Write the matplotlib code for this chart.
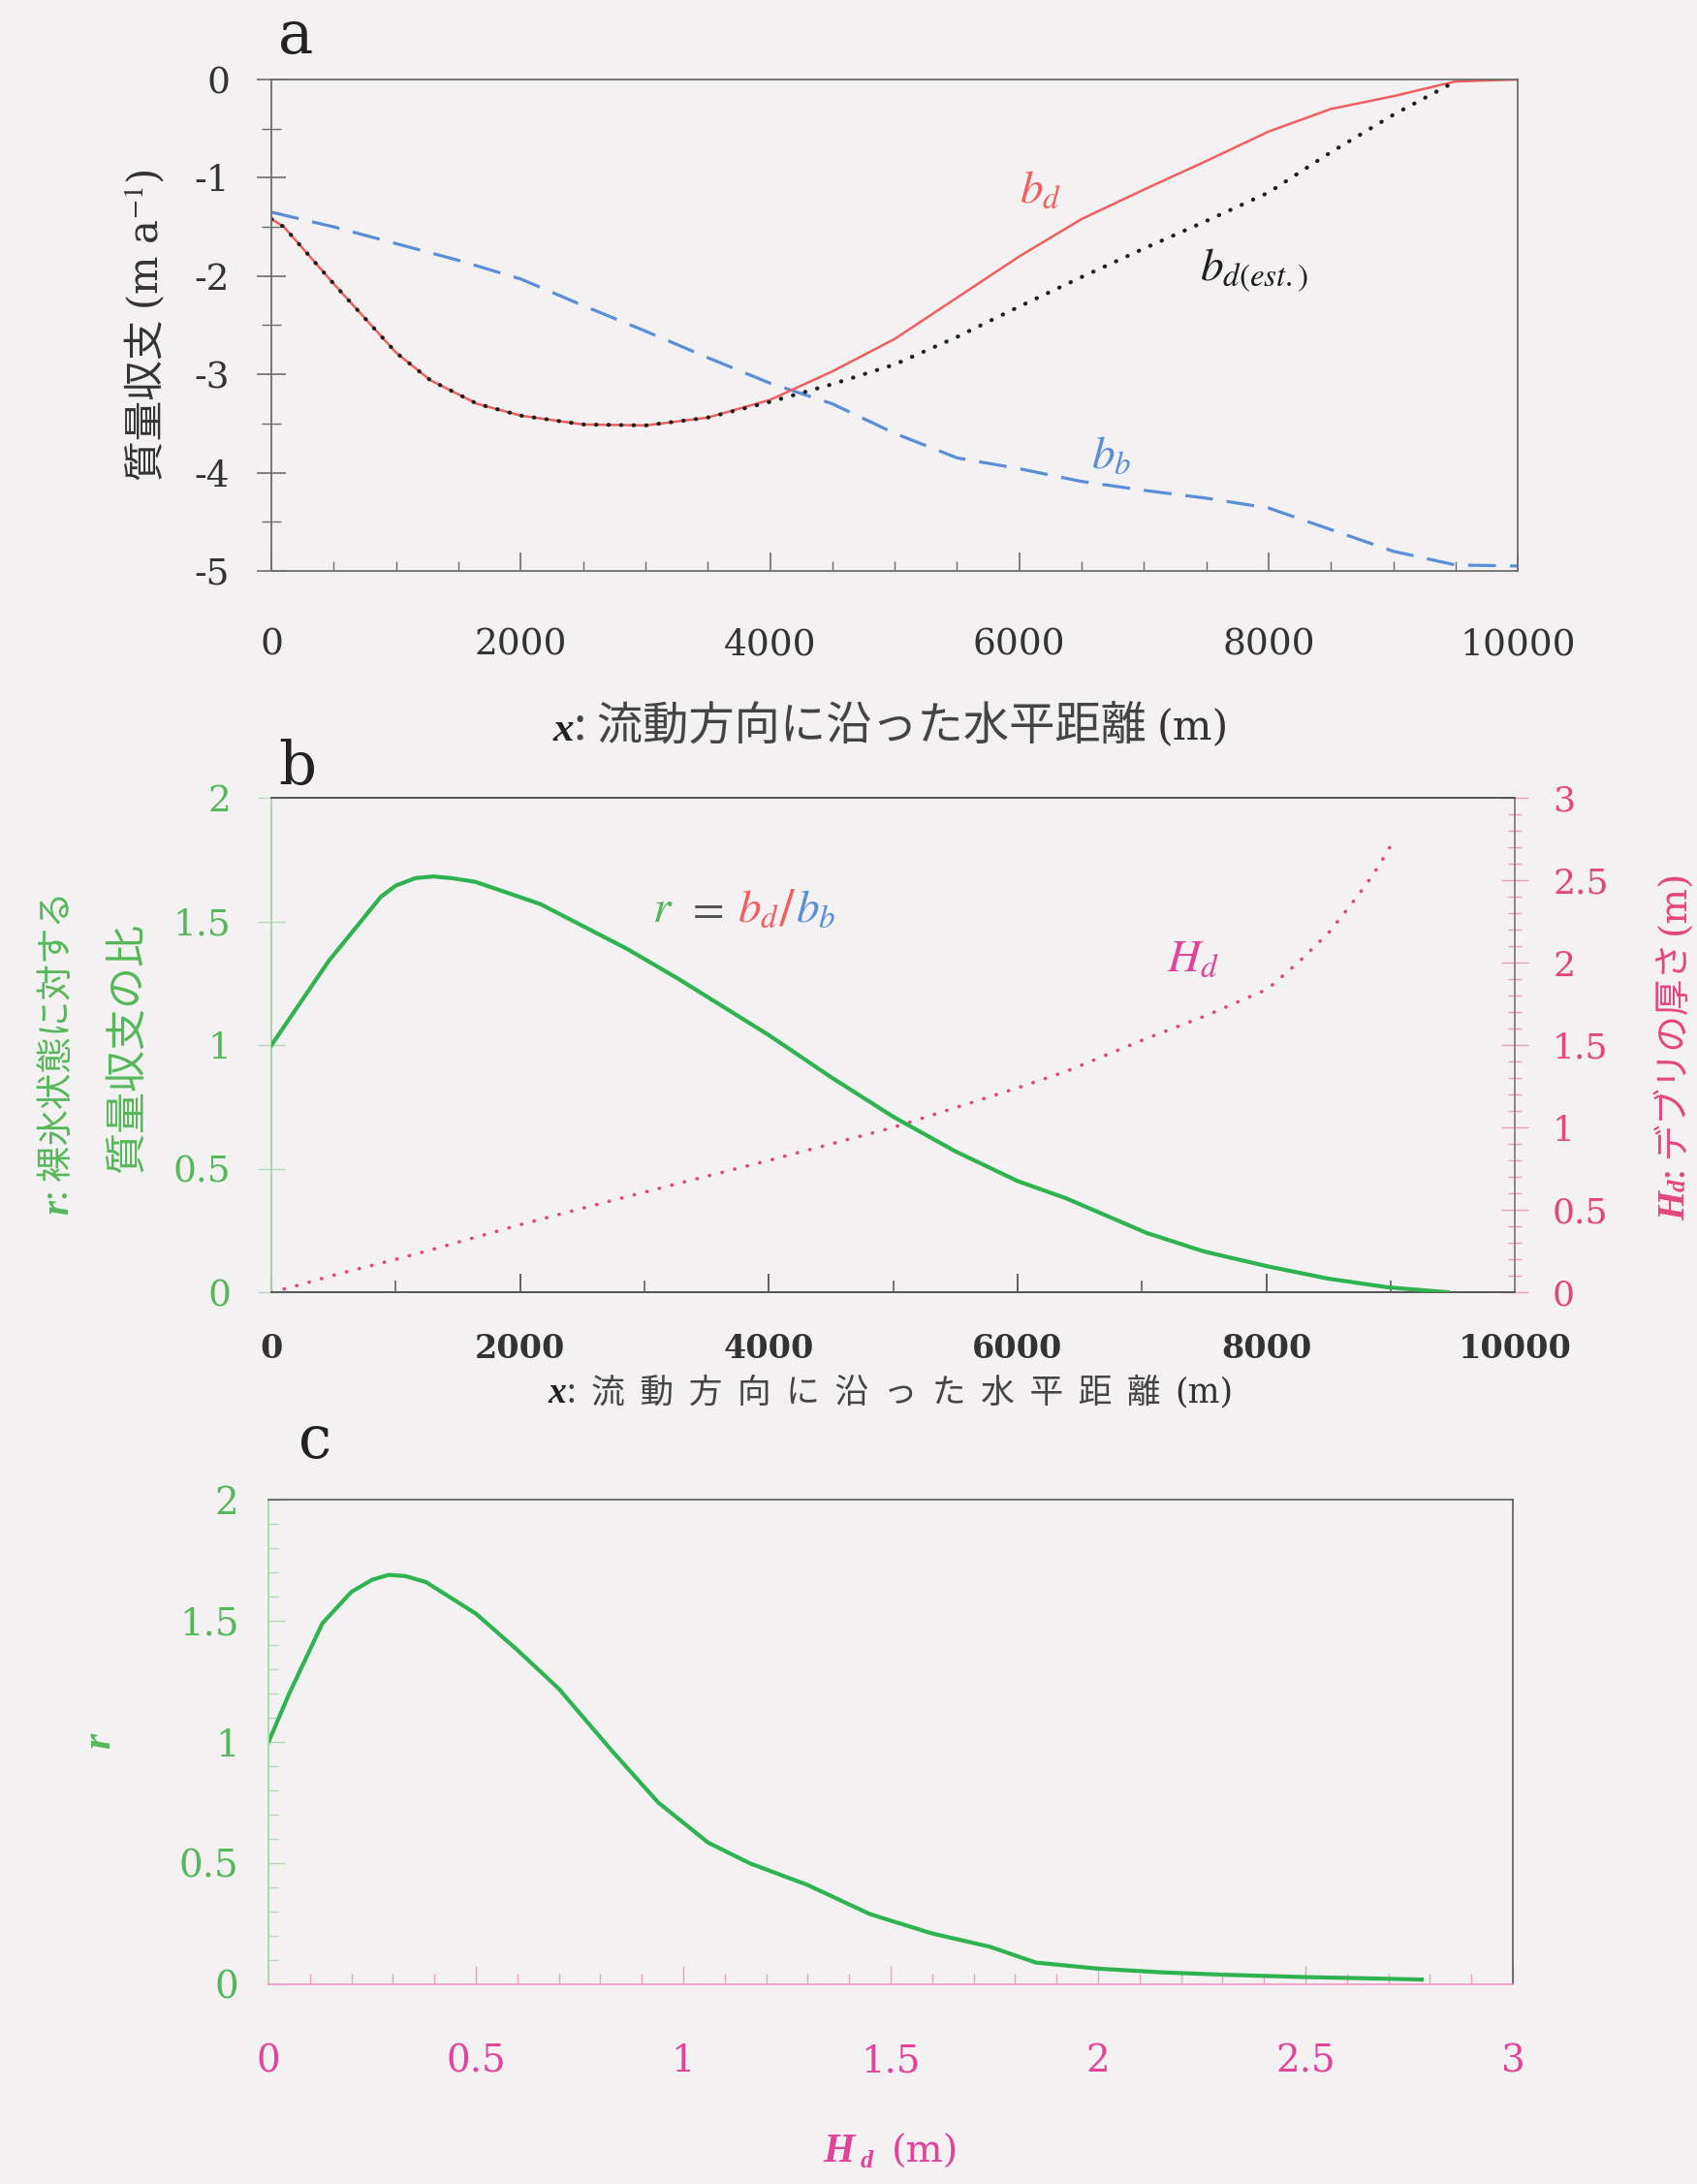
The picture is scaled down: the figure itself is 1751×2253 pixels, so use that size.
import matplotlib
matplotlib.use('Agg')
import matplotlib.pyplot as plt
from matplotlib.ticker import MultipleLocator, FormatStrFormatter

plt.rcParams['mathtext.fontset'] = 'stix'
plt.rcParams['font.family'] = ['DejaVu Serif']
plt.rcParams['axes.unicode_minus'] = False

# ---------------- data ----------------
# panel a : mass balance along flow
x_bd = [0, 100, 500, 1000, 1275, 1650, 2000, 2500, 3000, 3500, 4000, 4500, 5000,
        5500, 6000, 6500, 7000, 7500, 8000, 8500, 9000, 9500, 10000]
bd = [-1.42, -1.5, -2.08, -2.78, -3.06, -3.30, -3.42, -3.51, -3.52, -3.44, -3.26,
      -2.97, -2.64, -2.22, -1.80, -1.42, -1.12, -0.83, -0.53, -0.30, -0.17, -0.02, 0.0]

x_est = [0, 100, 500, 1000, 1275, 1650, 2000, 2500, 3000, 3500, 4000, 4500, 5000,
         5500, 6000, 6500, 7000, 7500, 8000, 8500, 9000, 9500]
bd_est = [-1.42, -1.5, -2.08, -2.78, -3.06, -3.30, -3.42, -3.51, -3.52, -3.44, -3.28,
          -3.10, -2.90, -2.62, -2.31, -2.01, -1.72, -1.44, -1.15, -0.74, -0.36, -0.02]

x_bb = [0, 500, 1000, 1500, 2000, 2500, 3000, 3500, 4000, 4500, 5000, 5500, 6000,
        6500, 7000, 7500, 8000, 8500, 9000, 9500, 10000]
bb = [-1.35, -1.5, -1.67, -1.84, -2.03, -2.30, -2.56, -2.83, -3.09, -3.30, -3.60,
      -3.85, -3.96, -4.09, -4.18, -4.26, -4.36, -4.58, -4.80, -4.94, -4.95]

# panel b : ratio r and debris thickness Hd along flow
x_r = [0, 460, 880, 1000, 1155, 1300, 1450, 1640, 2163, 2856, 3265, 4000, 4500, 5000,
       5500, 6000, 6391, 7038, 7500, 8010, 8500, 8979, 9460]
r_x = [1.0, 1.34, 1.60, 1.645, 1.675, 1.682, 1.675, 1.66, 1.57, 1.39, 1.27, 1.04,
       0.87, 0.71, 0.57, 0.45, 0.38, 0.24, 0.165, 0.105, 0.055, 0.02, 0.0]

x_hd = [0, 250, 530, 1000, 1295, 2000, 2500, 3270, 4000, 4500, 5000, 5500, 6000,
        6391, 7038, 7521, 8012, 8270, 8500, 8659, 8800, 8916, 9040]
hd = [0.0, 0.05, 0.11, 0.20, 0.26, 0.41, 0.51, 0.66, 0.80, 0.90, 1.00, 1.12, 1.24,
      1.34, 1.54, 1.68, 1.84, 2.01, 2.18, 2.33, 2.47, 2.60, 2.76]

# panel c : r against Hd
hd_c = [0, 0.05, 0.13, 0.2, 0.25, 0.29, 0.33, 0.38, 0.5, 0.6, 0.7, 0.83, 0.94, 1.06,
        1.16, 1.3, 1.45, 1.6, 1.74, 1.85, 2.0, 2.15, 2.3, 2.5, 2.65, 2.78]
r_c = [1.0, 1.2, 1.49, 1.62, 1.67, 1.69, 1.685, 1.66, 1.53, 1.38, 1.22, 0.96, 0.75,
       0.585, 0.50, 0.41, 0.29, 0.21, 0.155, 0.09, 0.065, 0.05, 0.04, 0.03, 0.025, 0.02]

# ---------------- style ----------------
BG = '#f3f1f2'
RED = '#f05f5f'
BLUE = '#5a8fd8'
GREEN = '#2fb350'
GREEN_T = '#55b85a'
PINK = '#e5457e'
MAG = '#e0459a'
DARK = '#333333'
SPINE = '#6e6e6e'
CJK = ['Noto Sans CJK JP', 'DejaVu Sans']

fig = plt.figure(figsize=(17.51, 22.53), dpi=100, facecolor=BG)
W, H = fig.bbox.width, fig.bbox.height
renderer = fig.canvas.get_renderer()


def seq_h(x, y, parts, center=True):
    """horizontal sequence of text pieces sharing a baseline (fig coords).
    parts: (string, kwargs, dy_px, gap_px_before)"""
    ts = []
    for s, kw, dy, gap in parts:
        t = fig.text(0, y + dy / H, s, va='baseline', ha='left', **kw)
        ts.append((t, gap))
    ws = [t.get_window_extent(renderer).width for t, _ in ts]
    total = sum(ws) + sum(g for _, g in ts)
    x0 = x * W - (total / 2 if center else 0)
    for (t, gap), w in zip(ts, ws):
        x0 += gap
        t.set_x(x0 / W)
        x0 += w


def seq_v(x, y, parts, center=True):
    """vertical (rotated 90) sequence of text pieces, reading bottom to top"""
    ts = []
    for s, kw in parts:
        t = fig.text(x, 0, s, rotation=90, rotation_mode='anchor',
                     va='baseline', ha='left', **kw)
        ts.append(t)
    hs = [t.get_window_extent(renderer).height for t in ts]
    y0 = y * H - (sum(hs) / 2 if center else 0)
    for t, h in zip(ts, hs):
        t.set_y(y0 / H)
        y0 += h


def style_spines(ax, colors):
    for k, c in colors.items():
        ax.spines[k].set_color(c)
        ax.spines[k].set_linewidth(1.3)


fmt = FormatStrFormatter('%g')

# ================= panel a =================
axa = fig.add_axes([0.160, 0.7386, 0.7344, 0.2250], facecolor=BG)
axa.plot(x_bb, bb, color=BLUE, lw=2.3, dashes=(9, 4.5))
axa.plot(x_bd, bd, color=RED, lw=1.8)
axa.plot(x_est, bd_est, color='#1e1e1e', lw=3.0, linestyle=(0, (0.1, 3.0)),
         dash_capstyle='round')
axa.set_xlim(0, 10000)
axa.set_ylim(-5, 0)
axa.xaxis.set_major_locator(MultipleLocator(2000))
axa.xaxis.set_minor_locator(MultipleLocator(500))
axa.yaxis.set_major_locator(MultipleLocator(1))
axa.yaxis.set_minor_locator(MultipleLocator(0.5))
axa.yaxis.set_major_formatter(fmt)
axa.tick_params(axis='x', which='both', direction='in', colors=SPINE,
                labelcolor=DARK, labelsize=27, pad=42)
axa.tick_params(axis='x', which='major', length=14, width=1.2)
axa.tick_params(axis='x', which='minor', length=7, width=1)
axa.tick_params(axis='y', which='both', direction='inout', colors=SPINE,
                labelcolor=DARK, labelsize=27, pad=20)
axa.tick_params(axis='y', which='major', length=22, width=1.2)
axa.tick_params(axis='y', which='minor', length=14, width=1)
style_spines(axa, {'left': SPINE, 'right': SPINE, 'top': SPINE, 'bottom': SPINE})

axa.text(6000, -1.25, r'$b_d$', color=RED, fontsize=34, ha='left', va='baseline')
axa.text(7450, -2.04, r'$b_{d(est.)}$', color='#1e1e1e', fontsize=34,
         ha='left', va='baseline')
axa.text(6580, -3.95, r'$b_b$', color=BLUE, fontsize=34, ha='left', va='baseline')

fig.text(0.164, 0.9756, 'a', fontsize=44, color='#222222', va='baseline')

seq_v(0.094, 0.8511, [('質量収支 ', dict(family=CJK, fontsize=30, color=DARK)),
                      (r'(m a$^{-1}$)', dict(fontsize=30, color=DARK))])

seq_h(0.525, 0.661, [('x', dict(fontsize=31, fontstyle='italic', fontweight='bold',
                                family='Liberation Serif', color='#222222'), 0, 0),
                     (': 流動方向に沿った水平距離 ', dict(family=CJK, fontsize=34,
                                                     color='#444444'), 0, 0),
                     ('(m)', dict(fontsize=31, color='#333333'), 0, 0)])

# ================= panel b =================
axb = fig.add_axes([0.160, 0.4083, 0.7327, 0.2264], facecolor=BG)
axb2 = axb.twinx()
axb.plot(x_r, r_x, color=GREEN, lw=3.0, zorder=3)
axb2.plot(x_hd, hd, color=PINK, lw=2.6, linestyle=(0, (0.1, 3.6)),
          dash_capstyle='round')
axb.set_xlim(0, 10000)
axb.set_ylim(0, 2)
axb2.set_ylim(0, 3)
axb.xaxis.set_major_locator(MultipleLocator(2000))
axb.xaxis.set_minor_locator(MultipleLocator(1000))
axb.yaxis.set_major_locator(MultipleLocator(0.5))
axb.yaxis.set_major_formatter(fmt)
axb2.yaxis.set_major_locator(MultipleLocator(0.5))
axb2.yaxis.set_minor_locator(MultipleLocator(0.1))
axb2.yaxis.set_major_formatter(fmt)
axb.tick_params(axis='x', which='both', direction='in', colors='#555555',
                labelcolor=DARK, labelsize=24, pad=30)
axb.tick_params(axis='x', which='major', length=14, width=1.3)
axb.tick_params(axis='x', which='minor', length=9, width=1.1)
for lab in axb.get_xticklabels():
    lab.set_fontweight('bold')
axb.tick_params(axis='y', which='major', direction='inout', length=20, width=1,
                colors='#b5d9b5', labelcolor=GREEN_T, labelsize=27, pad=20)
axb2.tick_params(axis='y', which='major', direction='inout', length=20, width=1,
                 colors='#e9a0b8', labelcolor=PINK, labelsize=26, pad=18)
axb2.tick_params(axis='y', which='minor', direction='inout', length=10, width=1,
                 colors='#e9a0b8')
style_spines(axb, {'left': '#a8d8a8', 'right': '#888888', 'top': '#555555',
                   'bottom': '#555555'})
style_spines(axb2, {'left': '#a8d8a8', 'right': '#888888', 'top': '#555555',
                    'bottom': '#555555'})
axb.set_zorder(axb2.get_zorder() + 1)
axb.patch.set_visible(False)

fig.text(0.164, 0.641, 'b', fontsize=44, color='#222222', va='baseline')

# r = b_d / b_b annotation
p0 = fig.transFigure.inverted().transform(axb.transData.transform((3060, 1.50)))
seq_h(p0[0], p0[1], [(r'$r$', dict(fontsize=34, color=GREEN_T), 0, 0),
                     (r'$=$', dict(fontsize=34, color='#555555'), 0, 14),
                     (r'$b_d$/', dict(fontsize=34, color=RED), 0, 14),
                     (r'$b_b$', dict(fontsize=34, color=BLUE), 0, 0)], center=False)
axb2.text(7200, 1.95, r'$H_d$', color=MAG, fontsize=34, ha='left', va='baseline')

# left label (two lines)
seq_v(0.040, 0.518, [('r', dict(fontsize=28, fontstyle='italic', fontweight='bold',
                                family='Liberation Serif', color=GREEN_T)),
                     (': 裸氷状態に対する', dict(family=CJK, fontsize=27,
                                             color=GREEN_T))])
seq_v(0.082, 0.52, [('質量収支の比', dict(family=CJK, fontsize=31, color=GREEN_T))])

# right label
seq_v(0.993, 0.5215, [('H', dict(fontsize=28, fontstyle='italic', fontweight='bold',
                                 family='Liberation Serif', color=PINK)),
                      ('d', dict(fontsize=18, fontstyle='italic', fontweight='bold',
                                 family='Liberation Serif', color=PINK)),
                      (': デブリの厚さ ', dict(family=CJK, fontsize=27, color=PINK)),
                      ('(m)', dict(fontsize=28, color=PINK))])

seq_h(0.525, 0.3578, [('x', dict(fontsize=27, fontstyle='italic', fontweight='bold',
                                 family='Liberation Serif', color='#222222'), 0, 0),
                      (':  流  動  方  向  に  沿  っ  た  水  平  距  離  ',
                       dict(family=CJK, fontsize=25, color='#444444'), 0, 0),
                      ('(m)', dict(fontsize=25, color='#333333'), 0, 0)])

# ================= panel c =================
axc = fig.add_axes([0.1582, 0.0914, 0.7333, 0.2219], facecolor=BG)
axc.plot(hd_c, r_c, color=GREEN, lw=3.0)
axc.set_xlim(0, 3)
axc.set_ylim(0, 2)
axc.xaxis.set_major_locator(MultipleLocator(0.5))
axc.xaxis.set_minor_locator(MultipleLocator(0.1))
axc.yaxis.set_major_locator(MultipleLocator(0.5))
axc.yaxis.set_minor_locator(MultipleLocator(0.1))
axc.xaxis.set_major_formatter(fmt)
axc.yaxis.set_major_formatter(fmt)
axc.tick_params(axis='x', which='both', direction='in', colors='#e9a0c4',
                labelcolor=MAG, labelsize=28, pad=44)
axc.tick_params(axis='x', which='major', length=14, width=1)
axc.tick_params(axis='x', which='minor', length=8, width=1)
axc.tick_params(axis='y', which='both', direction='in', colors='#b5d9b5',
                labelcolor=GREEN_T, labelsize=28, pad=22)
axc.tick_params(axis='y', which='major', length=12, width=1)
axc.tick_params(axis='y', which='minor', length=7, width=1)
style_spines(axc, {'left': '#a8d8a8', 'bottom': '#efa0c8', 'top': '#666666',
                   'right': '#666666'})

fig.text(0.176, 0.3324, 'c', fontsize=44, color='#222222', va='baseline')

fig.text(0.059, 0.203, 'r', fontsize=30, fontstyle='italic', fontweight='bold',
         family='Liberation Serif', color=GREEN_T, ha='center', va='center',
         rotation=90)

seq_h(0.525, 0.010, [('H', dict(fontsize=30, fontstyle='italic', fontweight='bold',
                                family='Liberation Serif', color=MAG), 0, 0),
                     ('d', dict(fontsize=19, fontstyle='italic', fontweight='bold',
                                family='Liberation Serif', color=MAG), -6, 6),
                     ('(m)', dict(fontsize=29, color=MAG), 0, 18)])

fig.savefig('out.png', dpi=100, facecolor=BG)
